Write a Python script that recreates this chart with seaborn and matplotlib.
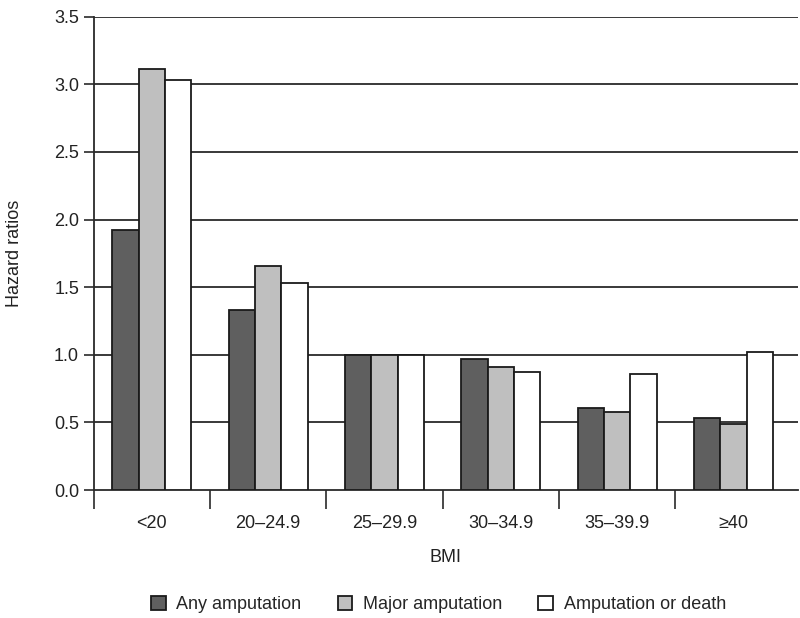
import pandas as pd
import matplotlib
matplotlib.use("Agg")
import matplotlib.pyplot as plt
import seaborn as sns
import numpy as np

# data
bmi_groups = ["<20", "20\u201324.9", "25\u201329.9", "30\u201334.9", "35\u201339.9", "\u226540"]
any_amputation = [1.92, 1.33, 1.00, 0.97, 0.61, 0.53]
major_amputation = [3.11, 1.66, 1.00, 0.91, 0.58, 0.49]
amputation_or_death = [3.03, 1.53, 1.00, 0.87, 0.86, 1.02]
series_names = ["Any amputation", "Major amputation", "Amputation or death"]
series_colors = ["#5f5f5f", "#bfbfbf", "#ffffff"]

df = pd.DataFrame({
    "BMI": bmi_groups * 3,
    "hr": any_amputation + major_amputation + amputation_or_death,
    "outcome": np.repeat(series_names, len(bmi_groups)),
})

sns.set_style("white")
plt.rcParams["font.family"] = ["Liberation Sans", "DejaVu Sans"]

fig = plt.figure(figsize=(8, 6.18), dpi=100)
ax = fig.add_axes([0.117, 0.207, 0.88, 0.766])

sns.barplot(data=df, x="BMI", y="hr", hue="outcome", order=bmi_groups,
            hue_order=series_names, palette=series_colors, width=0.68,
            edgecolor="#1a1a1a", linewidth=1.3, saturation=1, ax=ax, zorder=3)

ax.set_ylim(0, 3.5)
ax.set_xlim(-0.5, 5.55)
ax.set_yticks(np.arange(0, 3.51, 0.5))
ax.set_yticklabels([f"{v:.1f}" for v in np.arange(0, 3.51, 0.5)])
for v in np.arange(0.5, 3.51, 0.5):
    ax.axhline(v, color="#2a2a2a", lw=1.3, zorder=1)

# category boundaries as tick marks, labels centred between
ax.set_xticks(np.arange(-0.5, 5.0, 1.0))
ax.set_xticklabels([])
ax.set_xticks(np.arange(0, 6), minor=True)
ax.set_xticklabels(bmi_groups, minor=True)
ax.tick_params(axis="x", which="major", bottom=True, direction="out", length=14, width=1.2, color="#2a2a2a")
ax.tick_params(axis="x", which="minor", bottom=True, length=0, pad=18, labelsize=13, labelcolor="#222222")
ax.tick_params(axis="y", left=True, direction="out", length=7, width=1.2, color="#2a2a2a",
               labelsize=13, labelcolor="#222222")

for s in ["top", "right"]:
    ax.spines[s].set_visible(False)
for s in ["left", "bottom"]:
    ax.spines[s].set_color("#2a2a2a")
    ax.spines[s].set_linewidth(1.3)

ax.set_xlabel("BMI", fontsize=13, color="#222222", labelpad=12)
ax.set_ylabel("Hazard ratios", fontsize=13, color="#222222", labelpad=22)

handles, labels = ax.get_legend_handles_labels()
ax.legend(handles, labels, loc="upper center", bbox_to_anchor=(0.49, -0.19), ncol=3,
          frameon=False, fontsize=13, handlelength=0.8, handleheight=0.8,
          columnspacing=2.0, handletextpad=0.6)

fig.savefig("out.png", dpi=100)
